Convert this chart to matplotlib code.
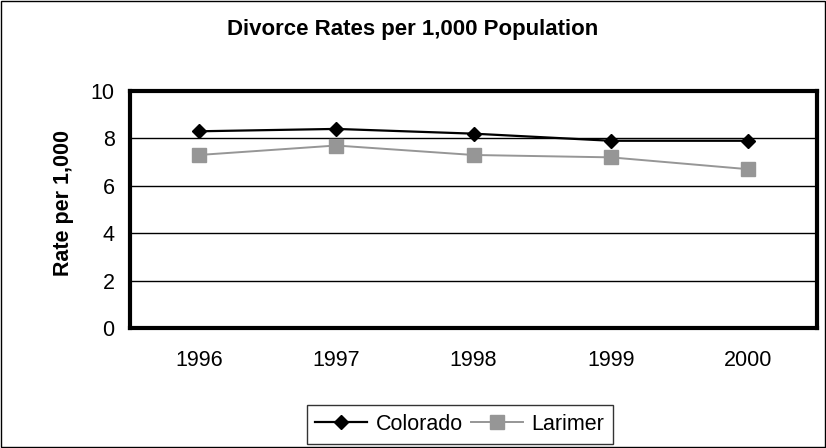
import matplotlib
matplotlib.use("Agg")
import matplotlib.pyplot as plt
from matplotlib.patches import Rectangle

plt.rcParams['font.family'] = ['Liberation Sans', 'DejaVu Sans']

years = ["1996", "1997", "1998", "1999", "2000"]
colorado = [8.3, 8.4, 8.2, 7.9, 7.9]
larimer = [7.3, 7.7, 7.3, 7.2, 6.7]

W, H = 826, 448
fig = plt.figure(figsize=(W / 100, H / 100), dpi=100)
ax = fig.add_axes([130 / W, (H - 328) / H, 687 / W, 237 / H])

x = list(range(len(years)))
gray = '#969696'
ax.plot(x, colorado, color='black', lw=1.6, marker='D', markersize=6.8,
        markerfacecolor='black', markeredgecolor='black', label='Colorado', zorder=4)
ax.plot(x, larimer, color=gray, lw=1.4, marker='s', markersize=9.5,
        markerfacecolor=gray, markeredgecolor=gray, label='Larimer', zorder=3)

ax.set_xlim(-0.5, 4.5)
ax.set_ylim(0, 10)
ax.set_yticks([0, 2, 4, 6, 8, 10])
ax.set_xticks(x)
ax.set_xticklabels(years)
ax.tick_params(axis='y', labelsize=15.5, length=0, pad=11)
ax.tick_params(axis='x', labelsize=15.5, length=0, pad=16)
ax.yaxis.grid(True, color='black', lw=1)
ax.set_axisbelow(True)
for s in ax.spines.values():
    s.set_linewidth(3)
    s.set_color('black')

fig.text(64 / W, 1 - 202.5 / H, 'Rate per 1,000', rotation=90, ha='center', va='center',
         fontsize=15.5, fontweight='bold')

fig.text(0.5, 1 - 30 / H, 'Divorce Rates per 1,000 Population', ha='center', va='center',
         fontsize=16, fontweight='bold')

leg = fig.legend(loc='center', bbox_to_anchor=(460 / W, 1 - 424.5 / H), ncol=2,
                 fontsize=15.5, frameon=True, fancybox=False, edgecolor='black',
                 handlelength=2.4, columnspacing=0.4, handletextpad=0.4,
                 borderpad=0.4, borderaxespad=0)
leg.get_frame().set_linewidth(1)

fig.patches.append(Rectangle((0.6 / W, 0.6 / H), (W - 1.6) / W, (H - 1.6) / H,
                             transform=fig.transFigure, fill=False,
                             edgecolor='black', lw=1))

fig.savefig('out.png', dpi=100)
